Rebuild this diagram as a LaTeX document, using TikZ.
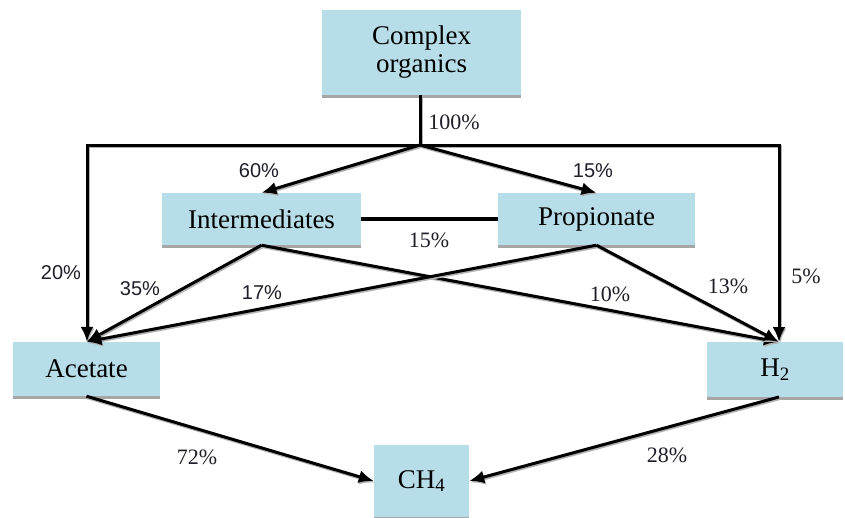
\documentclass[tikz,border=0pt]{standalone}
\usepackage{fontspec}
\setmainfont{Liberation Serif}
\newfontfamily\lsans{Liberation Sans}
\usetikzlibrary{arrows.meta}
\definecolor{boxblue}{RGB}{183,221,232}
\definecolor{labcol}{RGB}{30,30,40}
\tikzset{
  box/.style={fill=boxblue, draw=none, inner sep=0pt, align=center, font=\fontsize{27}{30}\selectfont,
    preaction={fill=gray!70, transform canvas={shift={(0pt,-3pt)}}}},
  conn/.style={line width=3pt, black, line join=miter,
    preaction={draw=gray!60, line width=3pt, transform canvas={shift={(1pt,-1.5pt)}}}},
  arr/.style={conn, -{Latex[length=15pt,width=13pt]}},
  lab/.style={font=\fontsize{22}{24}\selectfont, text=labcol, inner sep=0pt},
  slab/.style={font=\lsans\fontsize{20}{22}\selectfont, text=labcol, inner sep=0pt},
}
\begin{document}
\begin{tikzpicture}[x=1pt,y=-1pt]
\useasboundingbox (0,0) rectangle (845,517);
% boxes
\node[box, minimum width=199pt, minimum height=85pt] (co) at (421.5,52.5) {Complex\\[-2pt]organics};
\node[box, minimum width=199pt, minimum height=52pt] (int) at (261.5,219) {Intermediates};
\node[box, minimum width=197pt, minimum height=52pt] (pro) at (596.5,219) {Propionate};
\node[box, minimum width=147pt, minimum height=54pt] (ace) at (86.5,369) {Acetate};
\node[box, minimum width=136pt, minimum height=55pt] (hh) at (775,369.5) {H\textsubscript{2}};
\node[box, minimum width=95pt, minimum height=72pt] (ch) at (421.5,481) {CH\textsubscript{4}};
% helper coordinates
\coordinate (hub) at (420,145);
\coordinate (cl) at (87,145);
\coordinate (cr) at (779,145);
\coordinate (hin) at (779,342);
\coordinate (hout) at (779,397);
% connectors
\draw[conn] (co.south -| hub) -- (hub);
\draw[arr] (hub) -- (cl) -- (ace.north -| cl);
\draw[arr] (hub) -- (cr) -- (hin);
\draw[arr] (hub) -- (int.north);
\draw[arr] (hub) -- (pro.north);
\draw[line width=4.5pt] (int.east) -- (pro.west);
\draw[arr] (int.south) -- (ace.north);
\draw[arr] (int.south) -- (hin);
\draw[arr] (pro.south) -- (ace.north);
\draw[arr] (pro.south) -- (hin);
\draw[arr] (ace.south) -- (ch.west);
\draw[arr] (hout) -- (ch.east);
% labels
\node[lab] (l100) at (454,122) {100\%};
\node[slab] (l60) at (259,171) {60\%};
\node[slab] (l15a) at (593,171) {15\%};
\node[lab] (l15b) at (429,240) {15\%};
\node[slab] (l20) at (61,273) {20\%};
\node[slab] (l35) at (140,289) {35\%};
\node[slab] (l17) at (262,293) {17\%};
\node[lab] (l10) at (610,294) {10\%};
\node[lab] (l13) at (728,286) {13\%};
\node[lab] (l5) at (806,276) {5\%};
\node[lab] (l72) at (197,457) {72\%};
\node[lab] (l28) at (667,455) {28\%};
\end{tikzpicture}
\end{document}
